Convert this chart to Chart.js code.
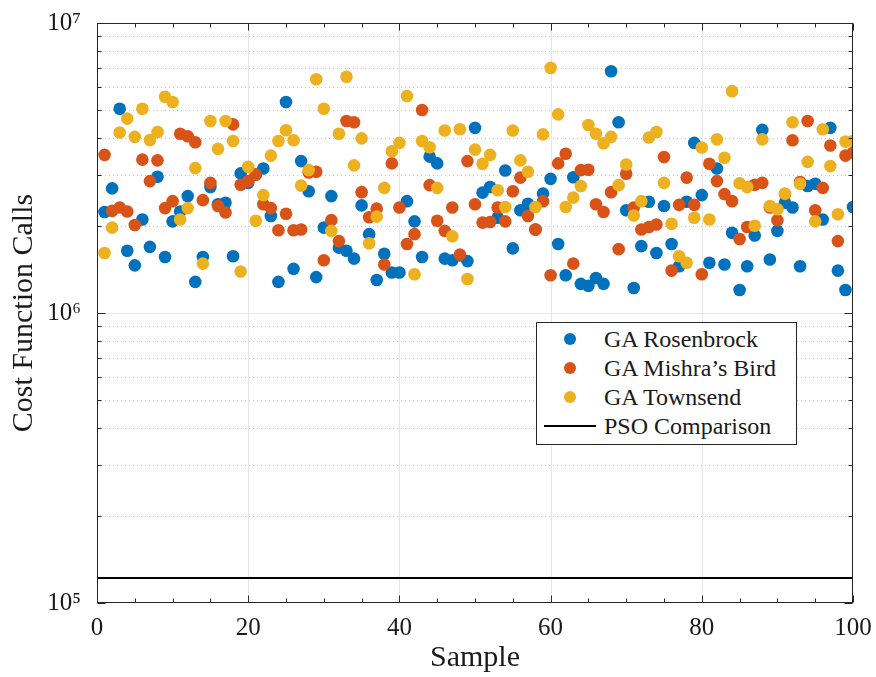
<!DOCTYPE html>
<html>
<head>
<meta charset="utf-8">
<script src="https://cdn.jsdelivr.net/npm/chart.js@4.4.1/dist/chart.umd.min.js"></script>
<style>
    body { margin: 0; background: #ffffff; }
    #wrap { position: relative; width: 876px; height: 677px; }
    #legend {
        position: absolute; left: 536px; top: 322px; width: 259px; height: 121px;
        border: 1px solid #262626; background: #ffffff;
        font-family: 'Liberation Serif', serif; font-size: 24px; color: #1a1a1a;
    }
    .row { position: absolute; left: 0; height: 28px; line-height: 28px; width: 100%; }
    .dot { position: absolute; left: 27px; top: 8px; width: 12px; height: 12px; border-radius: 50%; }
    .bar { position: absolute; left: 7px; top: 13px; width: 52px; height: 2px; background: #000000; }
    .txt { position: absolute; left: 67px; top: 0; white-space: nowrap; }
</style>
</head>
<body>
<div id="wrap">
    <canvas id="chart" width="876" height="677"></canvas>
    <div id="legend"></div>
</div>
<script>
// Номера выборок
const samples = [
    1, 2, 3, 4, 5, 6, 7, 8, 9, 10, 11, 12, 13, 14, 15, 16, 17, 18, 19, 20,
    21, 22, 23, 24, 25, 26, 27, 28, 29, 30, 31, 32, 33, 34, 35, 36, 37, 38, 39, 40,
    41, 42, 43, 44, 45, 46, 47, 48, 49, 50, 51, 52, 53, 54, 55, 56, 57, 58, 59, 60,
    61, 62, 63, 64, 65, 66, 67, 68, 69, 70, 71, 72, 73, 74, 75, 76, 77, 78, 79, 80,
    81, 82, 83, 84, 85, 86, 87, 88, 89, 90, 91, 92, 93, 94, 95, 96, 97, 98, 99, 100
];

const rosenbrock = [
    2.23e6, 2.69e6, 5.06e6, 1.64e6, 1.46e6, 2.10e6, 1.69e6, 2.95e6, 1.56e6, 2.07e6,
    2.24e6, 2.53e6, 1.28e6, 1.56e6, 2.72e6, 2.37e6, 2.40e6, 1.57e6, 3.03e6, 2.81e6,
    3.00e6, 3.15e6, 2.16e6, 1.28e6, 5.34e6, 1.42e6, 3.34e6, 2.63e6, 1.33e6, 1.97e6,
    2.53e6, 1.68e6, 1.64e6, 1.54e6, 2.35e6, 1.87e6, 1.30e6, 1.60e6, 1.38e6, 1.38e6,
    2.43e6, 2.07e6, 1.56e6, 3.46e6, 3.28e6, 1.54e6, 1.52e6, 1.58e6, 1.51e6, 4.35e6,
    2.60e6, 2.72e6, 2.13e6, 3.10e6, 1.67e6, 2.26e6, 2.38e6, 1.94e6, 2.58e6, 2.90e6,
    1.73e6, 1.35e6, 2.94e6, 1.26e6, 1.24e6, 1.32e6, 1.26e6, 6.82e6, 4.55e6, 2.26e6,
    1.22e6, 1.70e6, 2.42e6, 1.61e6, 2.34e6, 1.73e6, 1.45e6, 2.42e6, 3.86e6, 2.55e6,
    1.49e6, 3.15e6, 1.47e6, 1.89e6, 1.20e6, 1.45e6, 1.85e6, 4.28e6, 1.53e6, 1.92e6,
    2.40e6, 2.31e6, 1.45e6, 2.74e6, 2.79e6, 2.10e6, 4.35e6, 1.40e6, 1.20e6, 2.32e6
];

const mishraBird = [
    3.51e6, 2.25e6, 2.31e6, 2.24e6, 2.01e6, 3.38e6, 2.85e6, 3.36e6, 2.30e6, 2.43e6,
    4.15e6, 4.07e6, 3.88e6, 2.45e6, 2.81e6, 2.34e6, 2.22e6, 4.47e6, 2.77e6, 2.85e6,
    3.00e6, 2.37e6, 2.30e6, 1.93e6, 2.20e6, 1.93e6, 1.94e6, 3.05e6, 3.07e6, 1.52e6,
    2.09e6, 1.77e6, 4.59e6, 4.55e6, 2.61e6, 2.14e6, 2.29e6, 1.47e6, 3.28e6, 2.31e6,
    1.73e6, 1.87e6, 5.01e6, 2.76e6, 2.08e6, 1.92e6, 2.31e6, 1.59e6, 3.34e6, 2.37e6,
    2.05e6, 2.06e6, 2.31e6, 2.07e6, 2.63e6, 2.93e6, 2.16e6, 1.94e6, 2.43e6, 1.35e6,
    3.28e6, 3.54e6, 1.48e6, 3.11e6, 3.12e6, 2.37e6, 2.23e6, 2.61e6, 1.66e6, 3.02e6,
    2.31e6, 1.94e6, 1.98e6, 2.02e6, 3.45e6, 1.40e6, 2.36e6, 2.93e6, 2.36e6, 1.36e6,
    3.27e6, 2.85e6, 2.57e6, 2.43e6, 1.80e6, 1.98e6, 2.77e6, 2.81e6, 2.31e6, 2.09e6,
    2.57e6, 3.94e6, 2.83e6, 4.59e6, 2.26e6, 2.70e6, 3.78e6, 1.77e6, 3.49e6, 3.57e6
];

const townsend = [
    1.61e6, 1.97e6, 4.19e6, 4.68e6, 4.05e6, 5.06e6, 3.95e6, 4.21e6, 5.57e6, 5.34e6,
    2.10e6, 2.30e6, 3.16e6, 1.48e6, 4.59e6, 3.68e6, 4.59e6, 3.92e6, 1.39e6, 3.19e6,
    2.08e6, 2.55e6, 3.49e6, 3.92e6, 4.27e6, 3.94e6, 2.75e6, 3.11e6, 6.40e6, 5.06e6,
    1.92e6, 4.15e6, 6.53e6, 3.23e6, 4.00e6, 1.74e6, 2.15e6, 2.70e6, 3.61e6, 3.86e6,
    5.60e6, 1.36e6, 3.92e6, 3.73e6, 2.70e6, 4.26e6, 1.84e6, 4.30e6, 1.31e6, 3.66e6,
    3.27e6, 3.51e6, 2.65e6, 2.32e6, 4.26e6, 3.36e6, 3.07e6, 2.32e6, 4.13e6, 7.00e6,
    4.84e6, 2.32e6, 2.50e6, 2.74e6, 4.45e6, 4.15e6, 3.85e6, 4.05e6, 2.76e6, 3.25e6,
    2.17e6, 2.43e6, 4.03e6, 4.21e6, 2.81e6, 2.03e6, 1.57e6, 1.49e6, 2.13e6, 3.72e6,
    2.10e6, 3.97e6, 3.43e6, 5.82e6, 2.80e6, 2.72e6, 2.00e6, 3.97e6, 2.34e6, 2.28e6,
    2.58e6, 4.55e6, 2.79e6, 3.32e6, 2.07e6, 4.30e6, 3.21e6, 2.19e6, 3.90e6, 3.92e6
];

// Уровень PSO (горизонтальная линия)
const psoRange = [0, 100];
const psoValue = [1.22e5, 1.22e5];

// Подписи осей
const xTicks = [0, 20, 40, 60, 80, 100];
const xMinorTicks = [5, 10, 15, 25, 30, 35, 45, 50, 55, 65, 70, 75, 85, 90, 95];
const yTicks = [1e5, 1e6, 1e7];
const yTickLabels = ['10⁵', '10⁶', '10⁷'];

const seriesNames = ['GA Rosenbrock', "GA Mishra’s Bird", 'GA Townsend', 'PSO Comparison'];
const seriesColors = ['#0072BD', '#D95319', '#EDB120', '#000000'];

const FONT = "'Liberation Serif', serif";
const AXIS_COLOR = '#262626';

function toPoints(values) {
    return samples.map((s, i) => ({ x: s, y: values[i] }));
}

// Минорные деления логарифмической оси
function yMinorValues() {
    const out = [];
    for (let k = 0; k < yTicks.length - 1; k++) {
        for (let m = 2; m <= 9; m++) out.push(m * yTicks[k]);
    }
    return out;
}

// Сетка, рамка и внутренние засечки в стиле MATLAB
const matlabAxes = {
    id: 'matlabAxes',
    beforeDatasetsDraw(chart) {
        const { ctx, chartArea: a, scales: { x, y } } = chart;
        ctx.save();
        ctx.lineWidth = 1;

        // пунктирная минорная сетка по Y
        ctx.strokeStyle = 'rgba(0,0,0,0.22)';
        ctx.setLineDash([1, 3]);
        yMinorValues().forEach(v => {
            const py = Math.round(y.getPixelForValue(v)) + 0.5;
            ctx.beginPath(); ctx.moveTo(a.left, py); ctx.lineTo(a.right, py); ctx.stroke();
        });
        ctx.setLineDash([]);

        // основная сетка
        ctx.strokeStyle = '#e6e6e6';
        xTicks.slice(1, -1).forEach(v => {
            const px = Math.round(x.getPixelForValue(v)) + 0.5;
            ctx.beginPath(); ctx.moveTo(px, a.top); ctx.lineTo(px, a.bottom); ctx.stroke();
        });
        yTicks.slice(1, -1).forEach(v => {
            const py = Math.round(y.getPixelForValue(v)) + 0.5;
            ctx.beginPath(); ctx.moveTo(a.left, py); ctx.lineTo(a.right, py); ctx.stroke();
        });
        ctx.restore();
    },
    afterDatasetsDraw(chart) {
        const { ctx, chartArea: a, scales: { x, y } } = chart;
        ctx.save();
        ctx.strokeStyle = AXIS_COLOR;
        ctx.lineWidth = 1;
        const L = Math.round(a.left) + 0.5, R = Math.round(a.right) - 0.5;
        const T = Math.round(a.top) + 0.5, B = Math.round(a.bottom) - 0.5;
        ctx.strokeRect(L, T, R - L, B - T);

        const tick = (x1, y1, x2, y2) => {
            ctx.beginPath(); ctx.moveTo(x1, y1); ctx.lineTo(x2, y2); ctx.stroke();
        };
        xTicks.forEach(v => {
            const px = Math.round(x.getPixelForValue(v)) + 0.5;
            tick(px, B, px, B - 7); tick(px, T, px, T + 7);
        });
        xMinorTicks.forEach(v => {
            const px = Math.round(x.getPixelForValue(v)) + 0.5;
            tick(px, B, px, B - 4); tick(px, T, px, T + 4);
        });
        yTicks.forEach(v => {
            const py = Math.round(y.getPixelForValue(v)) + 0.5;
            tick(L, py, L + 8, py); tick(R, py, R - 8, py);
        });
        yMinorValues().forEach(v => {
            const py = Math.round(y.getPixelForValue(v)) + 0.5;
            tick(L, py, L + 4, py); tick(R, py, R - 4, py);
        });
        ctx.restore();
    }
};

new Chart(document.getElementById('chart'), {
    type: 'scatter',
    data: {
        datasets: [
            {
                type: 'line',
                label: seriesNames[3],
                data: psoRange.map((v, i) => ({ x: v, y: psoValue[i] })),
                borderColor: seriesColors[3],
                borderWidth: 2,
                pointRadius: 0
            },
            {
                label: seriesNames[2],
                data: toPoints(townsend),
                backgroundColor: seriesColors[2],
                borderWidth: 0,
                pointRadius: 6.3
            },
            {
                label: seriesNames[1],
                data: toPoints(mishraBird),
                backgroundColor: seriesColors[1],
                borderWidth: 0,
                pointRadius: 6.3
            },
            {
                label: seriesNames[0],
                data: toPoints(rosenbrock),
                backgroundColor: seriesColors[0],
                borderWidth: 0,
                pointRadius: 6.3
            }
        ]
    },
    options: {
        responsive: false,
        animation: false,
        layout: { padding: { left: 0, top: 22, right: 23, bottom: 0 } },
        plugins: {
            legend: { display: false },
            tooltip: { enabled: false }
        },
        scales: {
            x: {
                type: 'linear',
                min: 0,
                max: 100,
                afterBuildTicks: scale => { scale.ticks = xTicks.map(v => ({ value: v })); },
                afterFit: scale => { scale.height = 74; },
                ticks: {
                    color: '#1a1a1a',
                    font: { family: FONT, size: 25 },
                    padding: 2,
                    maxRotation: 0
                },
                grid: { display: false },
                border: { display: false },
                title: {
                    display: true,
                    text: 'Sample',
                    color: '#1a1a1a',
                    font: { family: FONT, size: 30 },
                    padding: { top: 0, bottom: 1 }
                }
            },
            y: {
                type: 'logarithmic',
                min: 1e5,
                max: 1e7,
                afterBuildTicks: scale => { scale.ticks = yTicks.map(v => ({ value: v })); },
                afterFit: scale => { scale.width = 97; },
                ticks: {
                    color: '#1a1a1a',
                    font: { family: FONT, size: 25 },
                    padding: 8,
                    callback: (value) => yTickLabels[yTicks.indexOf(value)] ?? ''
                },
                grid: { display: false },
                border: { display: false },
                title: {
                    display: true,
                    text: 'Cost Function Calls',
                    color: '#1a1a1a',
                    font: { family: FONT, size: 30 },
                    padding: { top: 6, bottom: 0 }
                }
            }
        }
    },
    plugins: [matlabAxes]
});

// Легенда
const legendRows = [
    { name: seriesNames[0], color: seriesColors[0], kind: 'dot' },
    { name: seriesNames[1], color: seriesColors[1], kind: 'dot' },
    { name: seriesNames[2], color: seriesColors[2], kind: 'dot' },
    { name: seriesNames[3], color: seriesColors[3], kind: 'bar' }
];
document.getElementById('legend').innerHTML = legendRows.map((r, i) => `
    <div class="row" style="top:${2 + i * 29}px">
        <span class="${r.kind}" style="background:${r.color}"></span>
        <span class="txt">${r.name}</span>
    </div>
`).join('');
</script>
</body>
</html>
